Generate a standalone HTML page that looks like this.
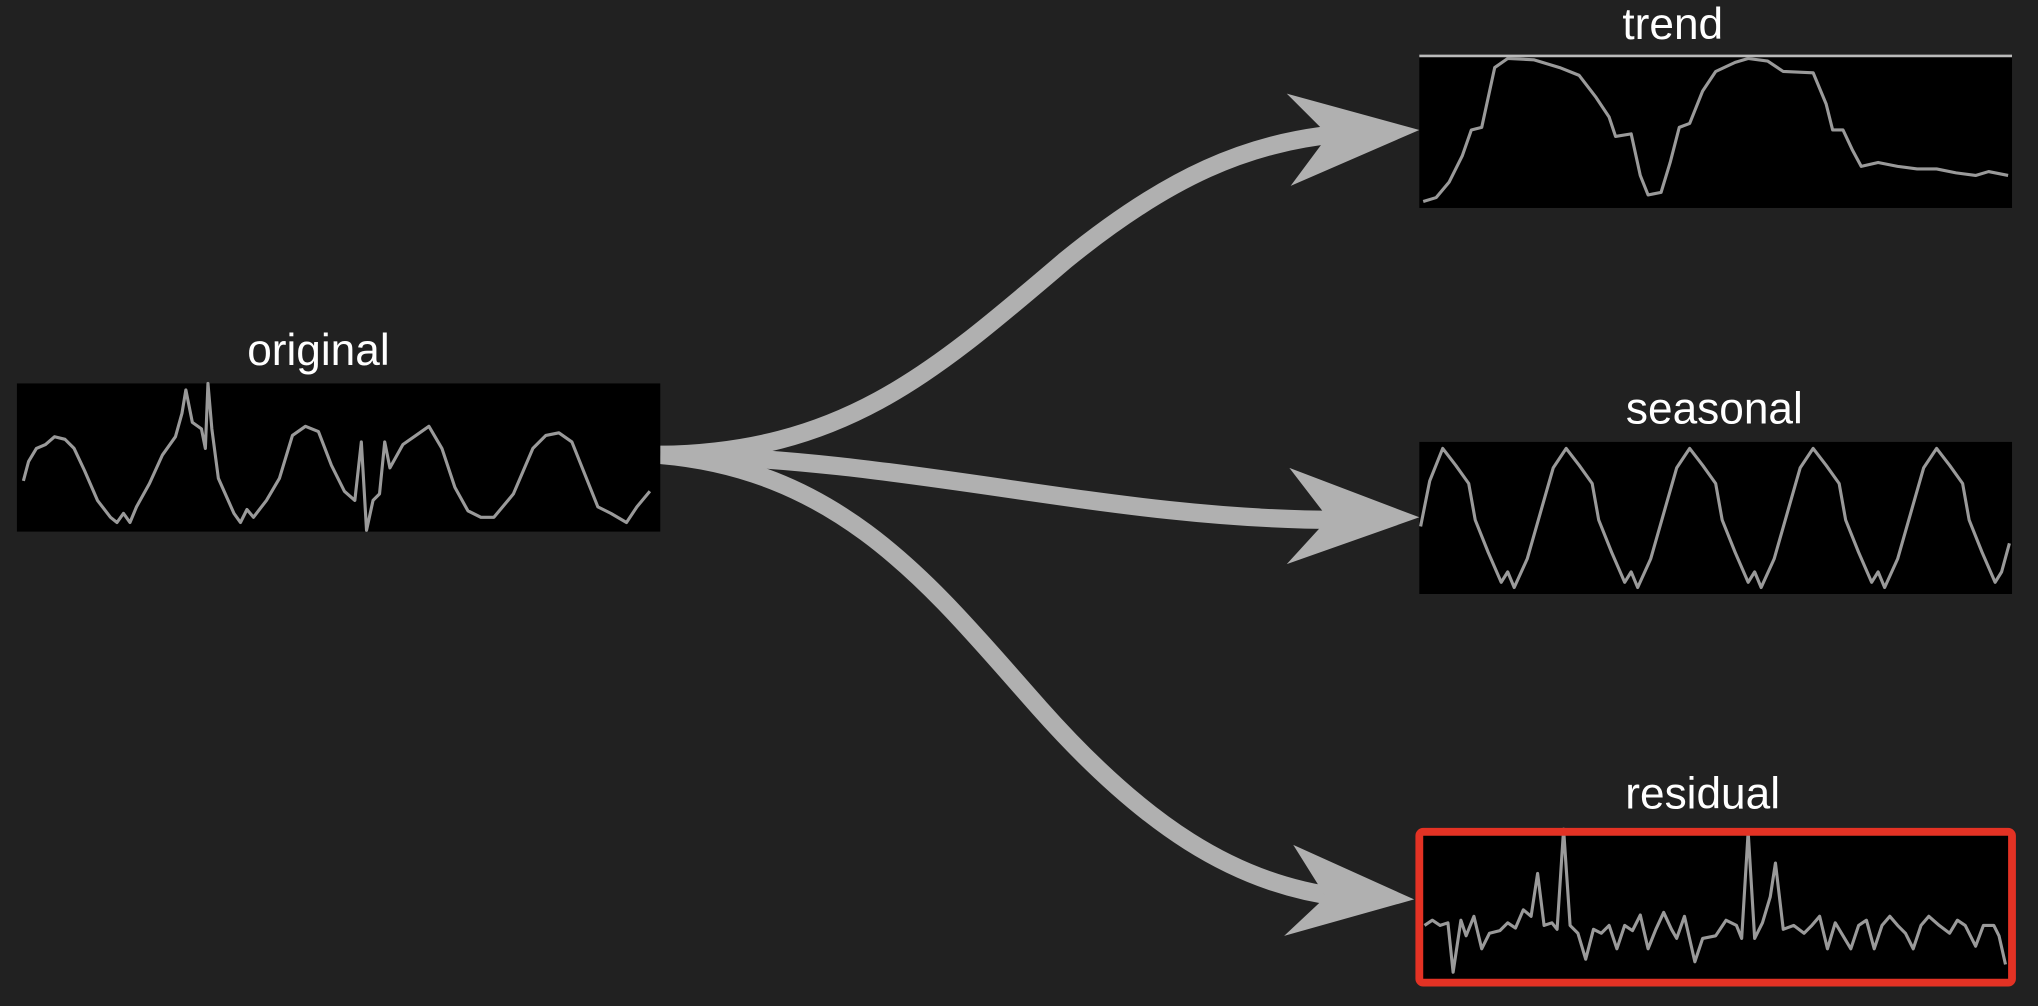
<!DOCTYPE html>
<html><head><meta charset="utf-8"><style>
html,body{margin:0;padding:0;background:#212121;}
svg{display:block;}
text{font-family:"Liberation Sans",sans-serif;fill:#fff;font-size:34px;}
</style></head><body>
<svg width="2038" height="1006" viewBox="0 0 1568 774" preserveAspectRatio="none" xmlns="http://www.w3.org/2000/svg">
<rect width="1568" height="774" fill="#212121"/>
<g fill="none" stroke="#b0b0b0" stroke-width="14">
<path d="M508,350 C650,348 720,285 820,200 C900,135 960,110 1030,103"/>
<path d="M508,350 C700,352 850,400 1030,400"/>
<path d="M508,350 C650,362 720,455 800,545 C880,635 950,680 1030,690"/>
</g>
<g fill="#b0b0b0">
<polygon points="1092,100 990,72 1022,104 993,143"/>
<polygon points="1092,398 992,360 1022,399 990,434"/>
<polygon points="1088,692 995,650 1020,690 988,720"/>
</g>
<text x="245" y="281" text-anchor="middle">original</text>
<text x="1287" y="30" text-anchor="middle">trend</text>
<text x="1319" y="326" text-anchor="middle">seasonal</text>
<text x="1310" y="622" text-anchor="middle">residual</text>
<rect x="13" y="295" width="495" height="114" fill="#000"/>
<rect x="1092" y="43" width="456" height="117" fill="#000"/>
<line x1="1092" y1="43" x2="1548" y2="43" stroke="#bbb" stroke-width="2"/>
<rect x="1092" y="340" width="456" height="117" fill="#000"/>
<rect x="1092" y="640" width="456" height="116" fill="#000"/>
<g fill="none" stroke="#9a9a9a" stroke-width="2.4" stroke-linejoin="round">
<polyline points="18,370 22,355 28,345 35,342 42,336 50,338 57,345 65,362 75,385 85,398 90,402 95,395 100,402 105,390 115,372 125,350 135,336 140,318 143,300 148,325 155,330 158,345 160,295 163,330 168,368 180,395 185,402 190,392 195,398 205,385 215,368 225,335 235,328 245,332 255,358 265,378 273,385 278,340 282,408 287,385 292,380 296,340 300,360 310,342 320,335 330,328 340,345 350,375 360,393 370,398 380,398 395,380 410,345 420,335 430,333 440,340 450,365 460,390 470,395 482,402 490,390 500,378"/>
<polyline points="1095,155 1105,152 1115,140 1125,120 1132,100 1140,98 1150,52 1160,45 1180,46 1200,52 1215,58 1228,75 1238,90 1243,105 1255,103 1262,135 1268,150 1278,148 1285,125 1292,98 1300,95 1310,70 1320,55 1335,48 1345,45 1360,47 1372,55 1395,56 1405,80 1410,100 1418,100 1425,115 1432,128 1445,125 1460,128 1475,130 1490,130 1505,133 1520,135 1530,132 1545,135"/>
<polyline points="1093,405 1100,370 1110,345 1120,358 1130,372 1135,400 1145,425 1155,448 1160,440 1165,452 1175,430 1185,395 1195,360 1205,345 1215,358 1225,372 1230,400 1240,425 1250,448 1255,440 1260,452 1270,430 1280,395 1290,360 1300,345 1310,358 1320,372 1325,400 1335,425 1345,448 1350,440 1355,452 1365,430 1375,395 1385,360 1395,345 1405,358 1415,372 1420,400 1430,425 1440,448 1445,440 1450,452 1460,430 1470,395 1480,360 1490,345 1500,358 1510,372 1515,400 1525,425 1535,448 1540,440 1546,418"/>
<polyline points="1096,712 1102,708 1108,712 1114,710 1118,748 1124,708 1128,720 1134,705 1140,730 1146,718 1154,716 1160,710 1166,714 1172,700 1178,705 1183,672 1188,712 1194,710 1198,715 1203,638 1208,712 1214,718 1220,738 1226,715 1232,718 1238,712 1244,730 1250,712 1256,716 1262,704 1268,730 1274,715 1280,702 1286,715 1290,722 1296,705 1304,740 1310,722 1320,720 1328,708 1336,712 1340,722 1345,640 1350,722 1356,710 1362,690 1366,664 1372,715 1380,712 1388,718 1394,712 1400,705 1406,730 1412,710 1418,720 1424,730 1430,712 1436,708 1442,730 1448,712 1454,705 1460,712 1466,718 1472,730 1478,712 1484,705 1492,712 1500,718 1506,708 1512,712 1520,728 1526,712 1534,712 1538,720 1543,742"/>
</g>
<rect x="1092" y="640" width="456" height="116" fill="none" stroke="#e33224" stroke-width="6" rx="3"/>
</svg>
</body></html>
